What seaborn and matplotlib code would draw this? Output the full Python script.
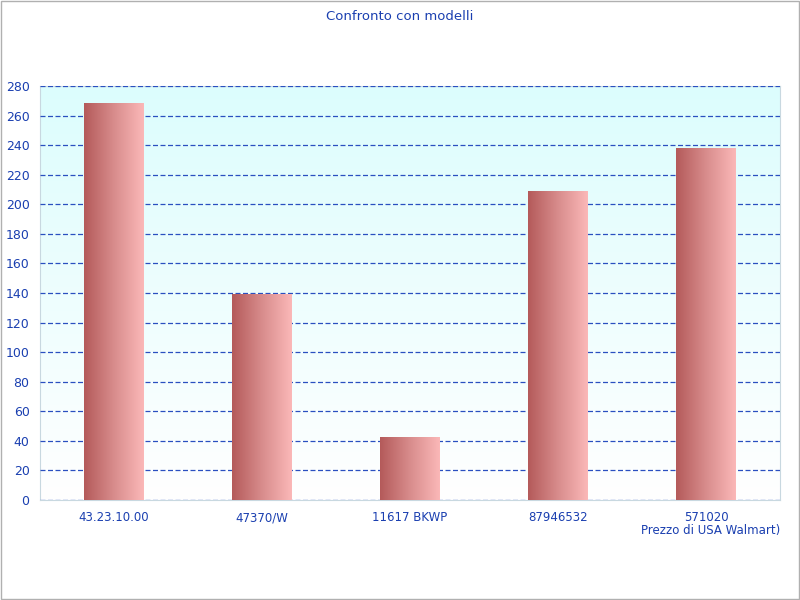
import numpy as np
import matplotlib
matplotlib.use("Agg")
import matplotlib.pyplot as plt
import seaborn as sns
from matplotlib.colors import LinearSegmentedColormap
from matplotlib.patches import Rectangle

sns.set_style("white")
plt.rcParams['font.family'] = ['DejaVu Sans']

categories = ["43.23.10.00", "47370/W", "11617 BKWP", "87946532", "571020"]
prices = [268.5, 139.5, 42.5, 209, 238]
yticks = list(range(0, 281, 20))

TEXT = "#1a3fb0"
fig = plt.figure(figsize=(8, 6), dpi=100)
fig.patches.append(Rectangle((0.001, 0.001), 0.998, 0.997, transform=fig.transFigure,
                             fill=False, edgecolor="#b0b0b0", lw=1))
ax = fig.add_axes([0.05, 0.1667, 0.925, 0.69])

sns.barplot(x=categories, y=prices, ax=ax, width=0.4, color="#c06060", edgecolor="none", zorder=3)
ax.set_xlim(-0.5, len(categories) - 0.5)
ax.set_ylim(0, 280)

# background vertical gradient
bg = LinearSegmentedColormap.from_list("bg", ["#ffffff", "#dcfdfd"])
ax.imshow(np.linspace(0, 1, 256).reshape(-1, 1), cmap=bg, origin="lower", aspect="auto",
          extent=[-0.5, len(categories) - 0.5, 0, 280], zorder=0)

# horizontal gradient fill of bars
barcm = LinearSegmentedColormap.from_list("bar", ["#b45a5a", "#d88c8c", "#fbb8b8"])
grad = np.linspace(0, 1, 256).reshape(1, -1)
for p in ax.patches:
    x0, w, h = p.get_x(), p.get_width(), p.get_height()
    im = ax.imshow(grad, cmap=barcm, aspect="auto", extent=[x0, x0 + w, 0, h], zorder=4)
    im.set_clip_path(p)
    p.set_alpha(0)
ax.set_xlim(-0.5, len(categories) - 0.5)
ax.set_ylim(0, 280)

ax.set_yticks(yticks)
ax.yaxis.grid(True, color="#2a4fc0", linestyle=(0, (4, 2)), lw=0.9, zorder=1)
ax.set_axisbelow(False)
ax.tick_params(axis="y", colors=TEXT, labelsize=9, length=4, color="#c8d8e0", labelcolor=TEXT)
ax.set_xticks(range(len(categories)))
ax.set_xticklabels(categories, color=TEXT, fontsize=8.5)
ax.tick_params(axis="x", length=0, pad=8)
ax.set_xticks(np.arange(-0.5, len(categories)), minor=True)
ax.tick_params(axis="x", which="minor", length=5, color="#7090d0")
for s in ax.spines.values():
    s.set_color("#c8d8e0")
ax.set_xlabel("")
ax.set_ylabel("")

fig.text(0.5, 0.972, "Confronto con modelli", ha="center", va="center", color=TEXT, fontsize=9.5)
fig.text(0.975, 0.116, "Prezzo di USA Walmart)", ha="right", va="center", color=TEXT, fontsize=8.5)

fig.savefig("out.png", dpi=100)
